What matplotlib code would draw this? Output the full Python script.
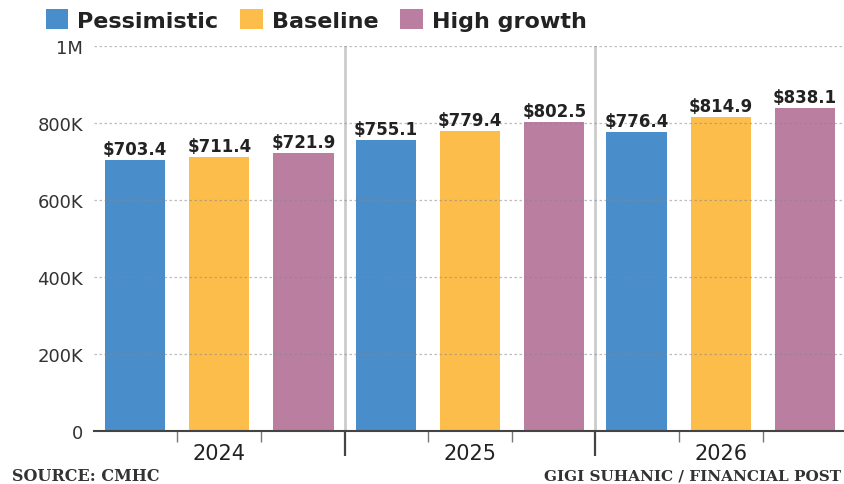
import numpy as np
import matplotlib
matplotlib.use("Agg")
import matplotlib.pyplot as plt
from matplotlib.patches import Patch

# data (thousands of dollars)
years = ["2024", "2025", "2026"]
scenarios = ["Pessimistic", "Baseline", "High growth"]
pessimistic = [703.4, 755.1, 776.4]
baseline = [711.4, 779.4, 814.9]
high_growth = [721.9, 802.5, 838.1]
y_ticks = [0, 200_000, 400_000, 600_000, 800_000, 1_000_000]
y_labels = ["0", "200K", "400K", "600K", "800K", "1M"]

COLORS = ["#4A8DCB", "#FDBD4B", "#B97EA0"]
SPACING = 0.336   # distance between bars in a group
WIDTH = 0.24      # bar width

fig = plt.figure(figsize=(8.44, 4.85), dpi=100)
ax = fig.add_axes([94 / 844, 53 / 485, 752 / 844, 385 / 485])

x = np.arange(len(years))
series = [pessimistic, baseline, high_growth]
for i, (vals, col) in enumerate(zip(series, COLORS)):
    pos = x + (i - 1) * SPACING
    heights = np.array(vals) * 1000
    ax.bar(pos, heights, width=WIDTH, color=col, zorder=2)
    for px, v in zip(pos, vals):
        ax.text(px, v * 1000 + 6000, f"${v:.1f}", ha="center", va="bottom",
                fontsize=12, fontweight="bold", color="#222222", zorder=4)

ax.set_xlim(-0.5, len(years) - 0.5)
ax.set_ylim(0, 1_000_000)

# dotted gridlines over the bars
for t in y_ticks[1:]:
    ax.axhline(t, color="#888888", lw=0.9, ls=(0, (2, 2)), alpha=0.55, zorder=3)

# light separators between years
for b in x[:-1] + 0.5:
    ax.axvline(b, color="#cccccc", lw=2, zorder=1)

ax.set_yticks(y_ticks, y_labels)
ax.tick_params(axis="y", length=0, pad=8, labelsize=13, labelcolor="#333333")

# small ticks between bars, long ticks on year boundaries
between = np.concatenate([x - SPACING / 2, x + SPACING / 2])
ax.set_xticks(np.sort(between), [""] * len(between))
ax.tick_params(axis="x", which="major", length=8, width=1, color="#777777")
ax.set_xticks(x[:-1] + 0.5, minor=True)
ax.tick_params(axis="x", which="minor", length=18, width=1.6, color="#444444")

sec = ax.secondary_xaxis("bottom")
sec.set_xticks(x, years)
sec.tick_params(length=0, pad=9, labelsize=15, labelcolor="#222222")
sec.spines["bottom"].set_visible(False)

for s in ["top", "right", "left"]:
    ax.spines[s].set_visible(False)
ax.spines["bottom"].set_color("#444444")
ax.spines["bottom"].set_linewidth(1.5)
ax.spines["bottom"].set_zorder(5)

handles = [Patch(facecolor=c, label=s) for c, s in zip(COLORS, scenarios)]
fig.legend(handles=handles, loc="upper left", bbox_to_anchor=(46 / 844, 1 - 10 / 485),
           ncol=3, frameon=False, borderpad=0, borderaxespad=0,
           handlelength=1.0, handleheight=1.0, handletextpad=0.4,
           columnspacing=1.0, prop={"size": 16, "weight": "bold"},
           labelcolor="#222222")

fig.text(12 / 844, 8 / 485, "SOURCE: CMHC", family="DejaVu Serif",
         fontsize=11.5, fontweight="bold", color="#333333", va="center")
fig.text(841 / 844, 8 / 485, "GIGI SUHANIC / FINANCIAL POST", family="DejaVu Serif",
         fontsize=11, fontweight="bold", color="#333333", va="center", ha="right")

fig.savefig("out.png", dpi=100)
